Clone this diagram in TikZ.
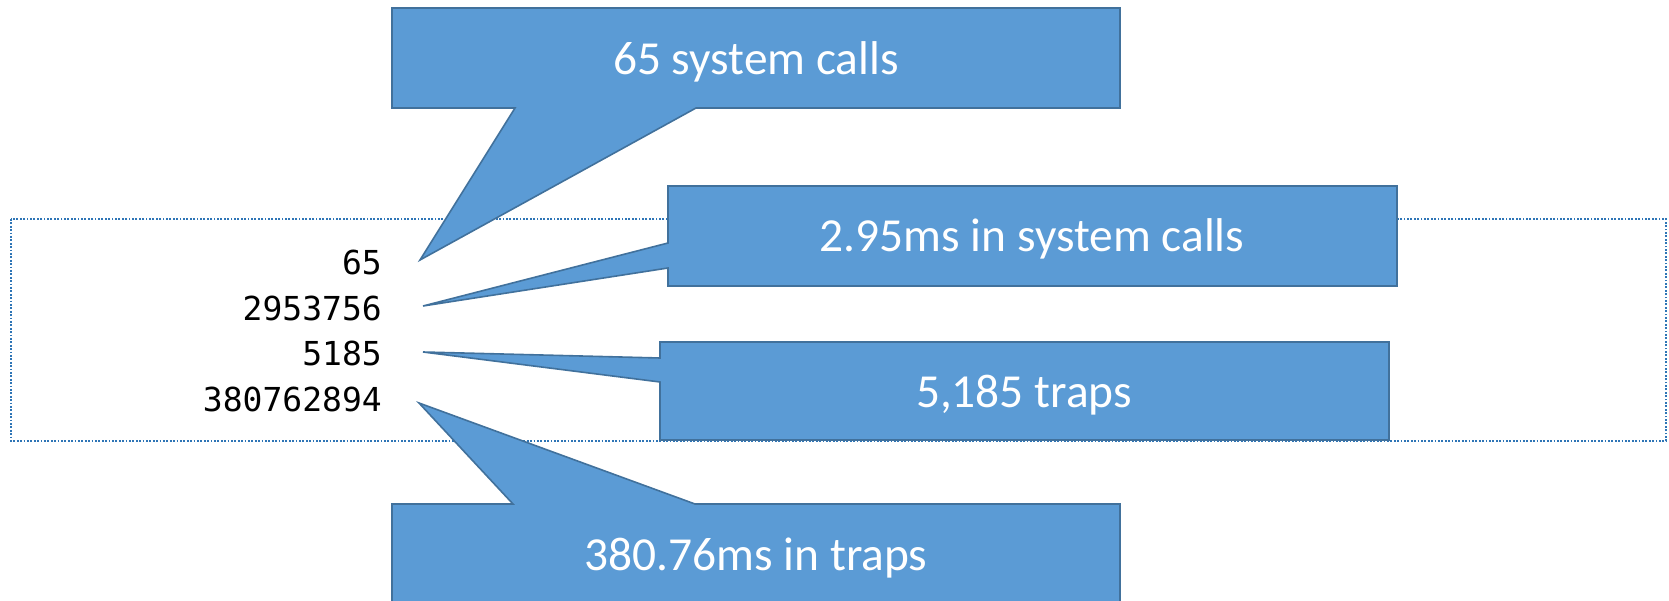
\documentclass[tikz,border=0pt]{standalone}
\usepackage{fontspec}
\setmainfont{Carlito}
\newfontfamily\numfont{DejaVu Sans Mono}
\definecolor{callfill}{HTML}{5B9BD5}
\definecolor{callline}{HTML}{41719C}
\definecolor{frameline}{HTML}{2E75B6}
\begin{document}
\begin{tikzpicture}[x=1pt,y=-1pt,
  callout/.style={fill=callfill, draw=callline, line width=1.6pt, line join=miter},
  calltext/.style={text=white, font=\fontsize{47.4}{56}\selectfont, inner sep=0pt, anchor=base},
  num/.style={font=\numfont\fontsize{33}{40}\selectfont, anchor=base east, inner sep=0pt},
  frame/.style={draw=frameline, line width=2pt, dash pattern=on 1.8pt off 1.6pt}]
\useasboundingbox (0,0) rectangle (1669,601);
\clip (0,0) rectangle (1669,601);
\draw[frame] (11,219) rectangle (1666,441);
% numbers
\node[num] (n1) at (382,275) {65};
\node[num] (n2) at (382,320) {2953756};
\node[num] (n3) at (382,365) {5185};
\node[num] (n4) at (382,411) {380762894};
% pointer tips
\coordinate (t1) at (420,260);
\coordinate (t2) at (423,306);
\coordinate (t3) at (423,352);
\coordinate (t4) at (419,403);
% callout 1
\draw[callout] (392,8) -- (1120,8) -- (1120,108) -- (696,108) -- (t1) -- (515,108) -- (392,108) -- cycle;
\node[calltext] (c1) at (756,75) {65 system calls};
% callout 2
\draw[callout] (668,186) -- (1397,186) -- (1397,286) -- (668,286) -- (668,268) -- (t2) -- (668,243) -- cycle;
\node[calltext] (c2) at (1032,252) {2.95ms in system calls};
% callout 3
\draw[callout] (660,342) -- (1389,342) -- (1389,440) -- (660,440) -- (660,382) -- (t3) -- (660,358) -- cycle;
\node[calltext] (c3) at (1024,407) {5,185 traps};
% callout 4
\draw[callout] (392,504) -- (513,504) -- (t4) -- (695,504) -- (1120,504) -- (1120,606) -- (392,606) -- cycle;
\node[calltext] (c4) at (756,570) {380.76ms in traps};
\end{tikzpicture}
\end{document}
